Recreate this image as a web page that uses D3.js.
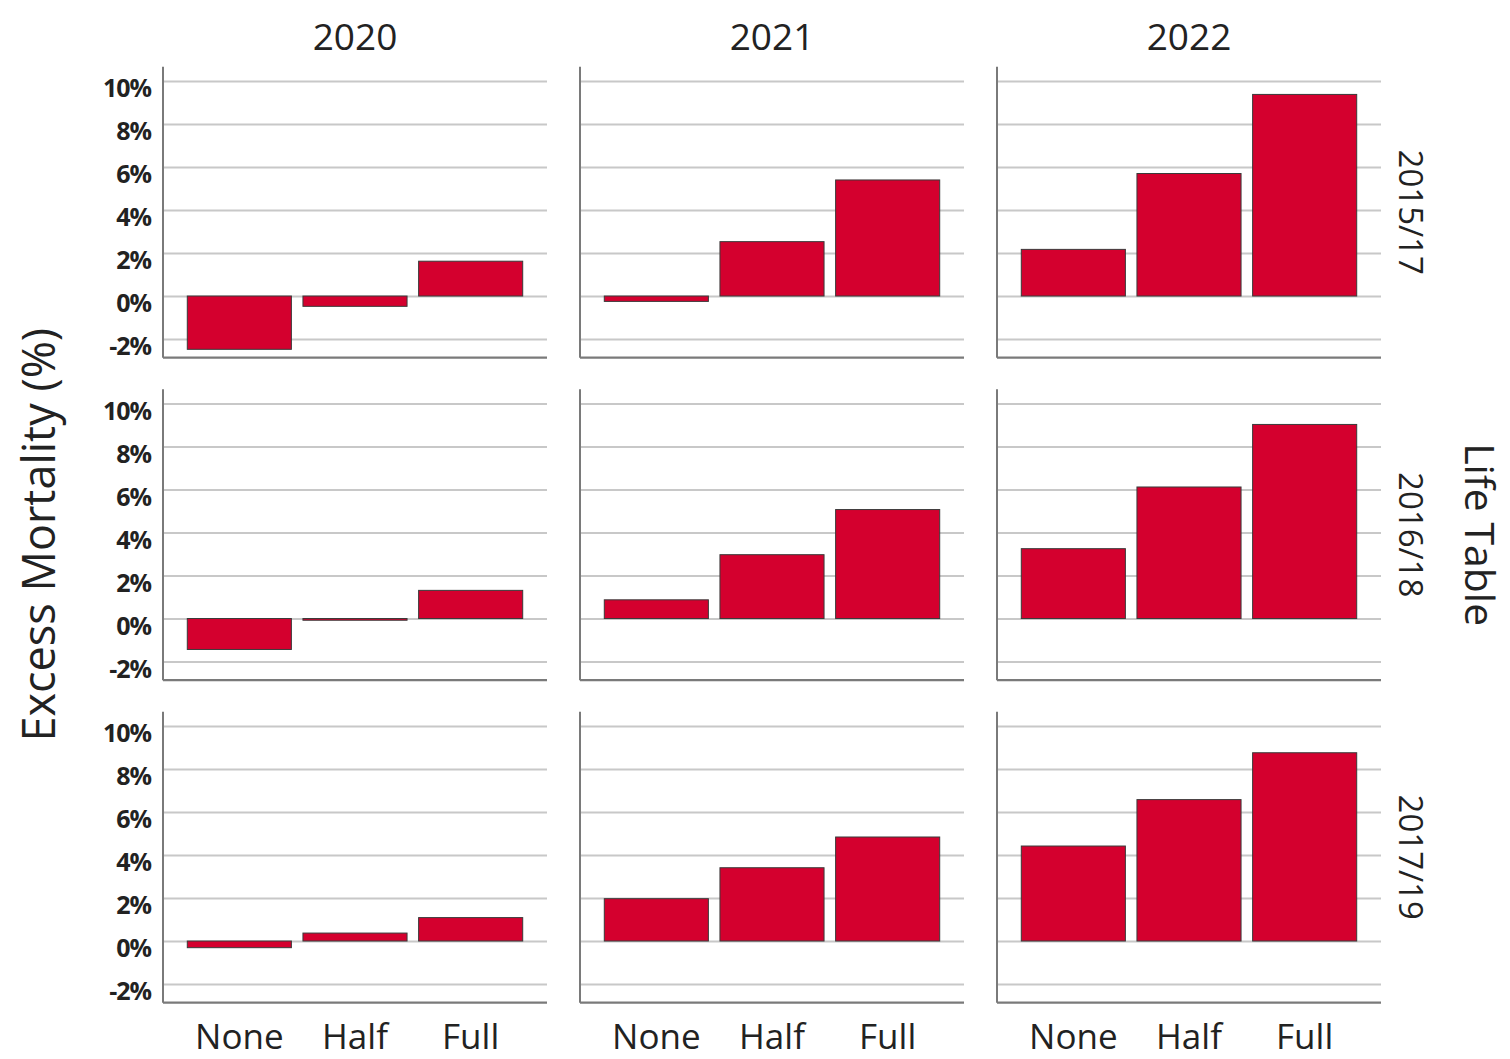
<!DOCTYPE html>
<html><head><meta charset="utf-8">
<script src="https://cdn.jsdelivr.net/npm/d3@7"></script>
<style>
html,body{margin:0;padding:0;background:#fff;}
svg{display:block;}
text{font-family:"Open Sans","Noto Sans",sans-serif;fill:#222;}
</style></head>
<body>
<svg id="chart" width="1510" height="1059"></svg>
<script>
const years = ["2020", "2021", "2022"];
const lifeTables = ["2015/17", "2016/18", "2017/19"];
const scenarios = ["None", "Half", "Full"];
const yTicks = [-2, 0, 2, 4, 6, 8, 10];
// values[lifeTable][year] = [None, Half, Full]  (excess mortality, %)
const lt201517 = [[-2.48, -0.48, 1.62], [-0.25, 2.53, 5.40], [2.17, 5.70, 9.38]];
const lt201618 = [[-1.44, -0.08, 1.31], [0.87, 2.97, 5.07], [3.25, 6.12, 9.03]];
const lt201719 = [[-0.31, 0.37, 1.09], [1.97, 3.41, 4.84], [4.42, 6.58, 8.76]];
const values = [lt201517, lt201618, lt201719];

const svg = d3.select("#chart");
const panelW = 384, panelH = 291;
const colX = d3.scaleLinear().domain([0, 1]).range([163, 580]);
const rowY = d3.scaleLinear().domain([0, 1]).range([66.7, 389.2]);
const yDomain = [-2.87, 10.67];
const barColor = "#d4002e";

lifeTables.forEach((lt, r) => {
  years.forEach((yr, c) => {
    const x0 = colX(c), y0 = rowY(r);
    const g = svg.append("g").attr("transform", `translate(${x0},${y0})`);
    const y = d3.scaleLinear().domain(yDomain).range([panelH, 0]);
    const x = d3.scaleBand().domain(scenarios).range([0, panelW]).paddingInner(0.1).paddingOuter(0.21);

    // gridlines
    const grid = g.append("g").call(d3.axisLeft(y).tickValues(yTicks).tickSize(-panelW).tickFormat(""));
    grid.select(".domain").remove();
    grid.selectAll(".tick line").attr("stroke", "#c8c8c8").attr("stroke-width", 2);

    // bars
    g.selectAll("rect.bar").data(values[r][c]).enter().append("rect")
      .attr("class", "bar")
      .attr("x", (d, i) => x(scenarios[i]))
      .attr("width", x.bandwidth())
      .attr("y", d => y(Math.max(0, d)))
      .attr("height", d => Math.max(1.5, Math.abs(y(d) - y(0))))
      .attr("fill", barColor)
      .attr("stroke", "#3a3a3a")
      .attr("stroke-width", 1);

    // left axis line
    g.append("line").attr("x1", 0).attr("x2", 0).attr("y1", 0).attr("y2", panelH)
      .attr("stroke", "#7a7a7a").attr("stroke-width", 2);
    // bottom axis line
    g.append("line").attr("x1", 0).attr("x2", panelW).attr("y1", panelH).attr("y2", panelH)
      .attr("stroke", "#7a7a7a").attr("stroke-width", 2.2);

    // tick labels on first column
    if (c === 0) {
      const ax = g.append("g").call(d3.axisLeft(y).tickValues(yTicks).tickSize(0).tickPadding(12).tickFormat(d => d + "%"));
      ax.select(".domain").remove();
      ax.selectAll(".tick text")
        .style("font-family", "'Open Sans','Noto Sans',sans-serif")
        .style("font-size", "25px").style("font-weight", "700")
        .style("letter-spacing", "-1px")
        .attr("fill", "#1a1a1a").attr("dy", "0.62em");
    }
    // category labels on bottom row
    if (r === lifeTables.length - 1) {
      g.selectAll("text.cat").data(scenarios).enter().append("text")
        .attr("class", "cat")
        .attr("x", d => x(d) + x.bandwidth() / 2)
        .attr("y", panelH + 46)
        .attr("text-anchor", "middle")
        .style("font-size", "35px")
        .text(d => d);
    }
    // column titles
    if (r === 0) {
      g.append("text").attr("x", panelW / 2).attr("y", -17)
        .attr("text-anchor", "middle").style("font-size", "37px").text(yr);
    }
    // row strip labels
    if (c === years.length - 1) {
      g.append("text")
        .attr("transform", `translate(${panelW + 18},${panelH / 2}) rotate(90)`)
        .attr("text-anchor", "middle").style("font-size", "33px").text(lt);
    }
  });
});

// axis titles
const midY = rowY(1) + panelH / 2;
svg.append("text").attr("transform", `translate(55,${midY}) rotate(-90)`)
  .attr("text-anchor", "middle").style("font-size", "45px").text("Excess Mortality (%)");
svg.append("text").attr("transform", `translate(1465,${midY}) rotate(90)`)
  .attr("text-anchor", "middle").style("font-size", "41px").text("Life Table");
</script>
</body></html>
